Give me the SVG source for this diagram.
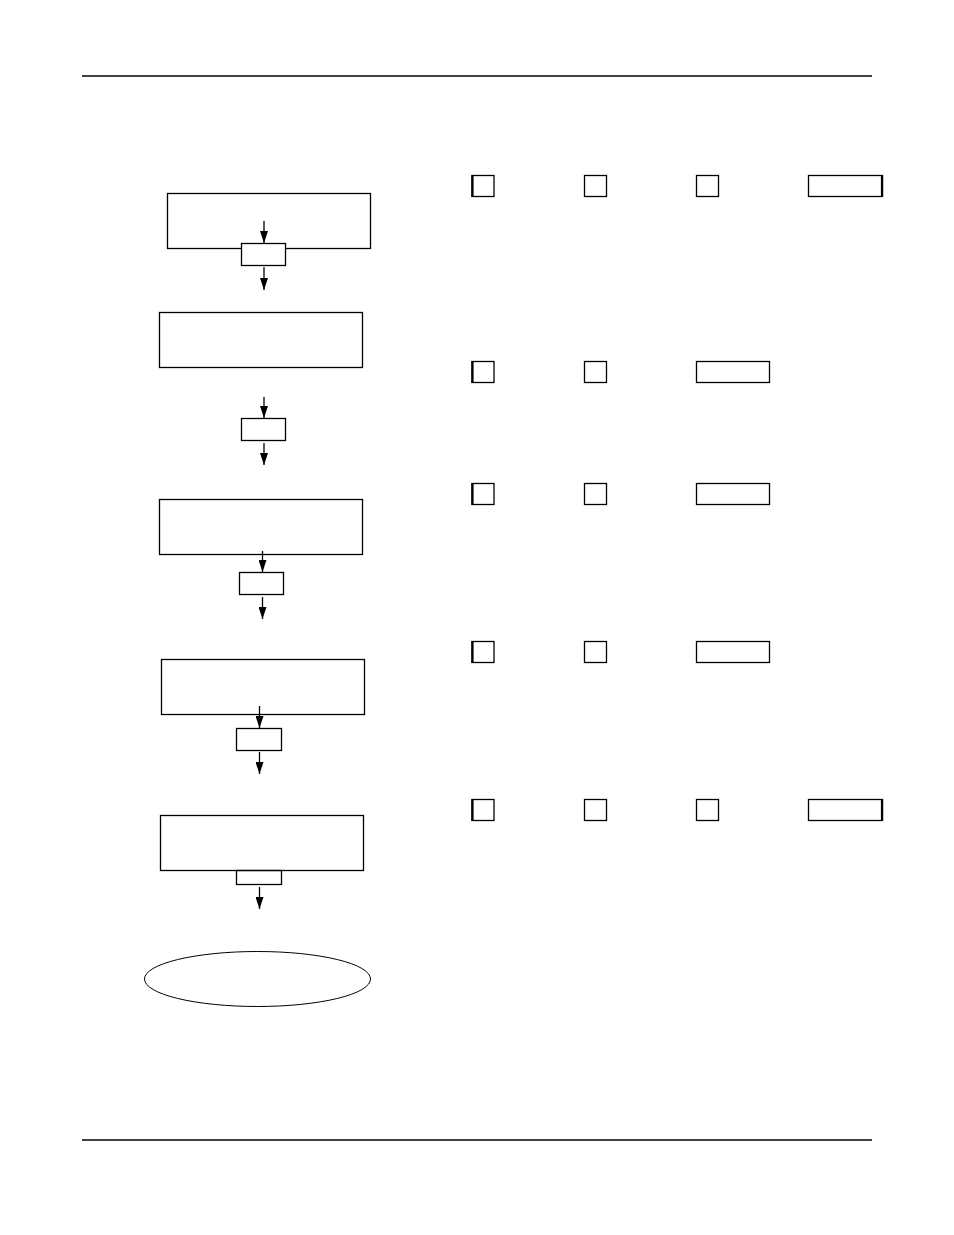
<svg xmlns="http://www.w3.org/2000/svg" width="954" height="1235" viewBox="0 0 954 1235">
<style>
.bx{fill:none;stroke:#000;stroke-width:1.3}
.ln{stroke:#000;stroke-width:1.3;fill:none}
.thk{stroke:#000;stroke-width:2.2}
.rule{stroke:#000;stroke-width:1.3}
</style>
<defs>
<marker id="ah" markerUnits="userSpaceOnUse" markerWidth="12" markerHeight="8" refX="12" refY="4" orient="auto" viewBox="0 0 12 8">
<path d="M0,0 L12,4 L0,8 Z" fill="#000"/>
</marker>
</defs>
<rect width="954" height="1235" fill="#fff"/>
<line class="rule" x1="82" y1="76" x2="872" y2="76"/>
<line class="rule" x1="82" y1="1140" x2="872" y2="1140"/>

<g id="step1"><rect class="bx" x="167.5" y="193.5" width="203" height="55"/></g>
<g id="key1"><rect class="bx" x="241.5" y="243.5" width="44" height="22" style="fill:#fff"/></g>
<g id="step2"><rect class="bx" x="159.5" y="312.5" width="203" height="55"/></g>
<g id="key2"><rect class="bx" x="241.5" y="418.5" width="44" height="22"/></g>
<g id="step3"><rect class="bx" x="159.5" y="499.5" width="203" height="55"/></g>
<g id="key3"><rect class="bx" x="239.5" y="572.5" width="44" height="22"/></g>
<g id="step4"><rect class="bx" x="161.5" y="659.5" width="203" height="55"/></g>
<g id="key4"><rect class="bx" x="236.5" y="728.5" width="45" height="22"/></g>
<g id="step5"><rect class="bx" x="160.5" y="815.5" width="203" height="55"/></g>
<g id="key5"><rect class="bx" x="236.5" y="870.5" width="45" height="14"/></g>
<g id="end"><ellipse cx="257.5" cy="979" rx="113" ry="27.5" fill="none" stroke="#000" stroke-width="1"/></g>

<g id="connectors">
<line class="ln" x1="264" y1="221" x2="264" y2="243" marker-end="url(#ah)"/>
<line class="ln" x1="264" y1="267" x2="264" y2="290" marker-end="url(#ah)"/>
<line class="ln" x1="264" y1="397" x2="264" y2="418" marker-end="url(#ah)"/>
<line class="ln" x1="264" y1="443" x2="264" y2="465" marker-end="url(#ah)"/>
<line class="ln" x1="262.5" y1="551" x2="262.5" y2="572" marker-end="url(#ah)"/>
<line class="ln" x1="262.5" y1="597" x2="262.5" y2="619" marker-end="url(#ah)"/>
<line class="ln" x1="259.5" y1="706" x2="259.5" y2="728" marker-end="url(#ah)"/>
<line class="ln" x1="259.5" y1="752" x2="259.5" y2="774" marker-end="url(#ah)"/>
<line class="ln" x1="259.5" y1="887" x2="259.5" y2="909" marker-end="url(#ah)"/>
</g>

<g id="row1">
<rect class="bx" x="472" y="175.5" width="22" height="21"/><line class="thk" x1="472.5" y1="175" x2="472.5" y2="197"/>
<rect class="bx" x="584.5" y="175.5" width="22" height="21"/>
<rect class="bx" x="696.5" y="175.5" width="22" height="21"/>
<rect class="bx" x="808.5" y="175.5" width="74" height="21"/><line class="thk" x1="882" y1="175" x2="882" y2="197"/>
</g>
<g id="row2">
<rect class="bx" x="472" y="361.5" width="22" height="21"/><line class="thk" x1="472.5" y1="361" x2="472.5" y2="383"/>
<rect class="bx" x="584.5" y="361.5" width="22" height="21"/>
<rect class="bx" x="696.5" y="361.5" width="73" height="21"/>
</g>
<g id="row3">
<rect class="bx" x="472" y="483.5" width="22" height="21"/><line class="thk" x1="472.5" y1="483" x2="472.5" y2="505"/>
<rect class="bx" x="584.5" y="483.5" width="22" height="21"/>
<rect class="bx" x="696.5" y="483.5" width="73" height="21"/>
</g>
<g id="row4">
<rect class="bx" x="472" y="641.5" width="22" height="21"/><line class="thk" x1="472.5" y1="641" x2="472.5" y2="663"/>
<rect class="bx" x="584.5" y="641.5" width="22" height="21"/>
<rect class="bx" x="696.5" y="641.5" width="73" height="21"/>
</g>
<g id="row5">
<rect class="bx" x="472" y="799.5" width="22" height="21"/><line class="thk" x1="472.5" y1="799" x2="472.5" y2="821"/>
<rect class="bx" x="584.5" y="799.5" width="22" height="21"/>
<rect class="bx" x="696.5" y="799.5" width="22" height="21"/>
<rect class="bx" x="808.5" y="799.5" width="74" height="21"/><line class="thk" x1="882" y1="799" x2="882" y2="821"/>
</g>
</svg>
